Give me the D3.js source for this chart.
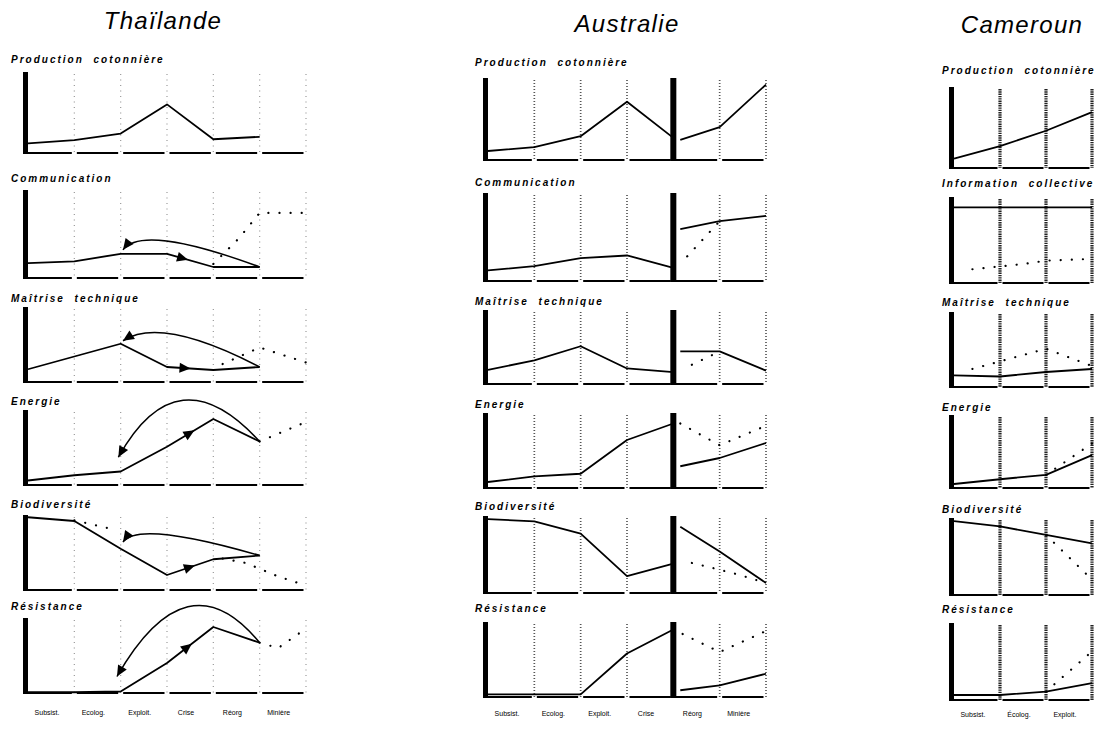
<!DOCTYPE html>
<html lang="fr">
<head>
<meta charset="utf-8">
<script src="https://cdn.jsdelivr.net/npm/d3@7"></script>
<style>
  html, body { margin: 0; padding: 0; background: #fff; }
  svg { display: block; font-family: "Liberation Sans", Arial, sans-serif; }
  .country { font-size: 24px; font-style: italic; letter-spacing: 1.3px; }
  .panel-label { font-size: 10px; font-weight: bold; font-style: italic; letter-spacing: 2px; word-spacing: 5px; }
  .stage text { font-size: 7px; fill: #000; }
</style>
</head>
<body>
<svg id="chart" width="1103" height="729"></svg>
<script>
// ---- data ----
const stages = ["Subsist.", "Ecolog.", "Exploit.", "Crise", "Réorg", "Minière"];
const stagesCameroun = ["Subsist.", "Écolog.", "Exploit."];
const indicators = ["Production cotonnière", "Communication", "Maîtrise technique", "Energie", "Biodiversité", "Résistance"];
const indicatorsCameroun = ["Production cotonnière", "Information collective", "Maîtrise technique", "Energie", "Biodiversité", "Résistance"];

// values at stage boundaries 0..5 (0 = bottom of panel, 1 = top)
const thaiSolid = [
  [0.12, 0.16, 0.24, 0.60, 0.17, 0.20],
  [0.17, 0.19, 0.275, 0.275, 0.125, 0.125],
  [0.17, 0.34, 0.51, 0.20, 0.16, 0.20],
  [0.06, 0.13, 0.18, 0.51, 0.88, 0.58],
  [0.97, 0.92, 0.55, 0.20, 0.41, 0.46],
  [0.01, 0.01, 0.02, 0.40, 0.88, 0.67]
];
const thaiDotted = [
  [],
  [[[4, 0.16], [4.55, 0.45], [5, 0.74], [6, 0.74]]],
  [[[4.2, 0.24], [5, 0.46], [6, 0.26]]],
  [[[5, 0.58], [6, 0.84]]],
  [[[1, 0.93], [1.9, 0.8]], [[4.2, 0.42], [4.7, 0.36], [5.4, 0.18], [6, 0.06]]],
  [[[5, 0.67], [5.4, 0.6], [6, 0.86]]]
];
// return arcs: start, peak, end (arrow tip)
const thaiArcs = [
  null,
  [[5, 0.125], [3, 0.42], [2.05, 0.32]],
  [[5, 0.2], [3.2, 0.63], [2.05, 0.55]],
  [[5, 0.58], [3.35, 1.13], [1.95, 0.37]],
  [[5, 0.46], [2.95, 0.74], [2.05, 0.64]],
  [[5, 0.67], [3.45, 1.15], [1.92, 0.22]]
];
const thaiArrowAt = [null, 3.35, 3.4, 3.5, 3.5, 3.45];

// Australia: first regime (boundaries 0..4), second regime after the break
const ausSolidA = [
  [0.11, 0.156, 0.29, 0.71, 0.27],
  [0.12, 0.17, 0.26, 0.29, 0.15],
  [0.19, 0.32, 0.51, 0.21, 0.16],
  [0.08, 0.155, 0.19, 0.64, 0.86],
  [0.96, 0.93, 0.77, 0.22, 0.38],
  [0.035, 0.035, 0.035, 0.58, 0.90]
];
const ausRegimeX = [4.15, 5, 6];
const ausSolidB = [
  [0.245, 0.40, 0.92],
  [0.59, 0.68, 0.74],
  [0.44, 0.44, 0.18],
  [0.29, 0.40, 0.60],
  [0.86, 0.54, 0.13],
  [0.09, 0.155, 0.31]
];
const ausDotted = [
  [],
  [[[4.3, 0.28], [5, 0.68]]],
  [[[4.4, 0.26], [5, 0.44]]],
  [[[4.15, 0.86], [5, 0.57], [6, 0.83]]],
  [[[4.4, 0.39], [4.75, 0.34], [5.4, 0.24], [6, 0.13]]],
  [[[4.2, 0.84], [5, 0.6], [6, 0.88]]]
];

const camSolid = [
  [0.115, 0.27, 0.46, 0.69],
  [0.88, 0.88, 0.88, 0.88],
  [0.155, 0.14, 0.20, 0.24],
  [0.055, 0.12, 0.18, 0.45],
  [0.96, 0.89, 0.78, 0.67],
  [0.065, 0.065, 0.11, 0.22]
];
const camDotted = [
  [],
  [[[0.4, 0.16], [1.5, 0.22], [2, 0.26], [3, 0.28]]],
  [[[0.4, 0.24], [2, 0.51], [3, 0.28]]],
  [[[2, 0.18], [3, 0.61]]],
  [[[2, 0.78], [3, 0.2]]],
  [[[2, 0.11], [3, 0.63]]]
];

// ---- layout ----
const layout = {
  thai: {
    title: "Thaïlande", titleX: 163, titleY: 29, x0: 28, x1: 306, labelX: 11, stageY: 715,
    rows: [[72, 153], [190, 278], [307, 382], [410, 485], [515, 590], [618, 693]],
    labelY: [63, 182, 302, 405, 508, 610],
    bars: [], vStroke: "#999", vWidth: 1.2, vDash: "1,4.5"
  },
  aus: {
    title: "Australie", titleX: 627, titleY: 32, x0: 488, x1: 766, labelX: 475, stageY: 716,
    rows: [[78, 160], [193, 281], [310, 384], [413, 488], [516, 593], [622, 697]],
    labelY: [66, 186, 305, 408, 510, 612],
    bars: [4], vStroke: "#555", vWidth: 1.7, vDash: "1,2"
  },
  cam: {
    title: "Cameroun", titleX: 1022, titleY: 33, x0: 954, x1: 1092, labelX: 942, stageY: 717,
    rows: [[87, 168], [197, 283], [312, 387], [415, 488], [518, 595], [623, 700]],
    labelY: [74, 187, 306, 411, 513, 613],
    bars: [], vStroke: "#222", vWidth: 3.2, vDash: "1.4,0.9"
  }
};

const toPts = (vals, xs) => vals.map((v, i) => [xs ? xs[i] : i, v]);

const countries = [
  {
    cfg: layout.thai, stageLabels: stages,
    panels: indicators.map((label, k) => ({
      label, solid: [toPts(thaiSolid[k])], dotted: thaiDotted[k],
      arc: thaiArcs[k], arrowAt: thaiArrowAt[k]
    }))
  },
  {
    cfg: layout.aus, stageLabels: stages,
    panels: indicators.map((label, k) => ({
      label, solid: [toPts(ausSolidA[k]), toPts(ausSolidB[k], ausRegimeX)],
      dotted: ausDotted[k], arc: null, arrowAt: null
    }))
  },
  {
    cfg: layout.cam, stageLabels: stagesCameroun,
    panels: indicatorsCameroun.map((label, k) => ({
      label, solid: [toPts(camSolid[k])], dotted: camDotted[k], arc: null, arrowAt: null
    }))
  }
];

// ---- drawing ----
const svg = d3.select("#chart");

function arrowHead(g, tip, angle, len = 9, half = 4) {
  const dx = Math.cos(angle), dy = Math.sin(angle);
  const pts = [
    [tip[0], tip[1]],
    [tip[0] - len * dx - half * dy, tip[1] - len * dy + half * dx],
    [tip[0] - len * dx + half * dy, tip[1] - len * dy - half * dx]
  ];
  g.append("path").attr("d", "M" + pts.join("L") + "Z").attr("fill", "#000");
}

countries.forEach(({ cfg, stageLabels, panels }) => {
  const n = stageLabels.length;
  const x = d3.scaleLinear().domain([0, n]).range([cfg.x0, cfg.x1]);
  const g = svg.append("g");

  g.append("text")
    .attr("class", "country")
    .attr("x", cfg.titleX)
    .attr("y", cfg.titleY)
    .attr("text-anchor", "middle")
    .text(cfg.title);

  panels.forEach((p, k) => {
    const [top, bottom] = cfg.rows[k];
    const y = d3.scaleLinear().domain([0, 1]).range([bottom, top]);
    const line = d3.line().x((d) => x(d[0])).y((d) => y(d[1]));
    const pg = g.append("g");

    pg.append("text")
      .attr("class", "panel-label")
      .attr("x", cfg.labelX)
      .attr("y", cfg.labelY[k])
      .text(p.label);

    // stage boundaries
    pg.selectAll("line.vert")
      .data(d3.range(1, n + 1).filter((i) => !cfg.bars.includes(i)))
      .enter()
      .append("line")
      .attr("class", "vert")
      .attr("x1", (i) => x(i))
      .attr("x2", (i) => x(i))
      .attr("y1", top + 2)
      .attr("y2", bottom)
      .attr("stroke", cfg.vStroke)
      .attr("stroke-width", cfg.vWidth)
      .attr("stroke-dasharray", cfg.vDash);

    // baseline, broken at each boundary
    pg.selectAll("line.base")
      .data(d3.range(n))
      .enter()
      .append("line")
      .attr("class", "base")
      .attr("x1", (i) => x(i) + (i === 0 ? 0 : 2.5))
      .attr("x2", (i) => x(i + 1) - 2.5)
      .attr("y1", bottom)
      .attr("y2", bottom)
      .attr("stroke", "#000")
      .attr("stroke-width", 2);

    // thick bars
    pg.append("rect")
      .attr("x", x(0) - 5)
      .attr("y", top)
      .attr("width", 5)
      .attr("height", bottom - top + 1)
      .attr("fill", "#000");
    cfg.bars.forEach((b) => {
      pg.append("rect")
        .attr("x", x(b) - 3)
        .attr("y", top)
        .attr("width", 6)
        .attr("height", bottom - top + 1)
        .attr("fill", "#000");
    });

    // dotted trajectories
    p.dotted.forEach((seg) => {
      pg.append("path")
        .attr("d", line(seg))
        .attr("fill", "none")
        .attr("stroke", "#000")
        .attr("stroke-width", 2.2)
        .attr("stroke-linecap", "round")
        .attr("stroke-dasharray", "0.1,11");
    });

    // solid trajectories
    p.solid.forEach((seg) => {
      pg.append("path")
        .attr("d", line(seg))
        .attr("fill", "none")
        .attr("stroke", "#000")
        .attr("stroke-width", 1.8)
        .attr("stroke-linejoin", "round");
    });

    // arrow along the solid line
    if (p.arrowAt != null) {
      const pts = p.solid[0];
      const i = pts.findIndex((d, j) => j < pts.length - 1 && d[0] <= p.arrowAt && pts[j + 1][0] >= p.arrowAt);
      const a = pts[i], b = pts[i + 1];
      const t = (p.arrowAt - a[0]) / (b[0] - a[0]);
      const px = x(a[0] + t * (b[0] - a[0]));
      const py = y(a[1] + t * (b[1] - a[1]));
      const ang = Math.atan2(y(b[1]) - y(a[1]), x(b[0]) - x(a[0]));
      arrowHead(pg, [px + 5 * Math.cos(ang), py + 5 * Math.sin(ang)], ang, 11, 5);
    }

    // return arc
    if (p.arc) {
      const S = [x(p.arc[0][0]), y(p.arc[0][1])];
      const P = [x(p.arc[1][0]), y(p.arc[1][1])];
      const E = [x(p.arc[2][0]), y(p.arc[2][1])];
      const C = [2 * P[0] - (S[0] + E[0]) / 2, 2 * P[1] - (S[1] + E[1]) / 2];
      const path = d3.path();
      path.moveTo(S[0], S[1]);
      path.quadraticCurveTo(C[0], C[1], E[0], E[1]);
      pg.append("path")
        .attr("d", path.toString())
        .attr("fill", "none")
        .attr("stroke", "#000")
        .attr("stroke-width", 1.5);
      arrowHead(pg, E, Math.atan2(E[1] - C[1], E[0] - C[0]), 11, 5);
    }
  });

  // stage names under the last panel
  const axis = d3
    .axisBottom(x)
    .tickValues(d3.range(n).map((i) => i + 0.4))
    .tickSize(0)
    .tickFormat((d) => stageLabels[Math.floor(d)]);

  g.append("g")
    .attr("class", "stage")
    .attr("transform", `translate(0,${cfg.stageY - 8})`)
    .call(axis)
    .call((a) => a.select(".domain").remove());
});
</script>
</body>
</html>
